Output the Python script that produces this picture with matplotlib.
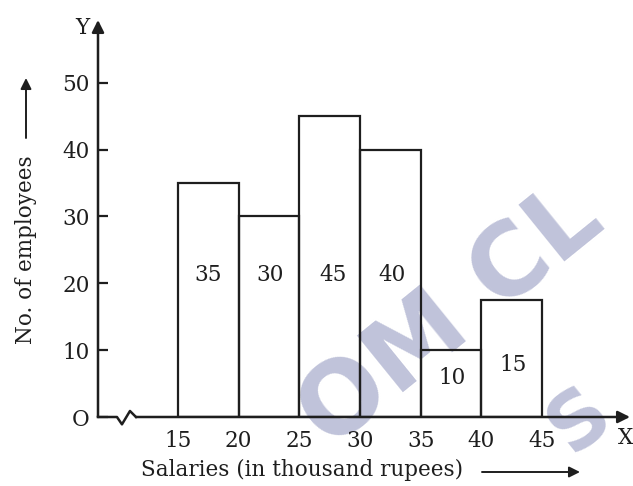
import matplotlib.pyplot as plt

# histogram of salaries, drawn in textbook style
bin_left = [15, 20, 25, 30, 35, 40]
heights = [35, 30, 45, 40, 10, 17.5]
bar_labels = ['35', '30', '45', '40', '10', '15']
label_x = [17.5, 22.6, 27.8, 32.6, 37.6, 42.6]
label_y = [21.3, 21.3, 21.3, 21.3, 5.8, 7.8]
xticks = [15, 20, 25, 30, 35, 40, 45]
yticks = [0, 10, 20, 30, 40, 50]
ytick_labels = ['O', '10', '20', '30', '40', '50']

plt.rcParams['font.family'] = ['DejaVu Serif']
fs = 15.5
W, H = 633, 486
ink = '#1e1e1e'

fig = plt.figure(figsize=(W / 100, H / 100), dpi=100)
ax = fig.add_axes([98 / W, 69 / H, (630 - 98) / W, (417 - 20) / H])
ax.set_xlim(8.41, 52.25)
ax.set_ylim(0, 59.4)
for s in ax.spines.values():
    s.set_visible(False)

# watermark
wm = '#c0c3da'
ax.text(452 / W, 1 - 318 / H, 'OM CL', transform=fig.transFigure, rotation=39,
        fontsize=72, fontweight='bold', family='DejaVu Sans', color=wm,
        ha='center', va='center', zorder=0, clip_on=False)
ax.text(580 / W, 1 - 420 / H, 'S', transform=fig.transFigure, rotation=39,
        fontsize=56, fontweight='bold', family='DejaVu Sans', color=wm,
        ha='center', va='center', zorder=0, clip_on=False)

ax.bar(bin_left, heights, width=5, align='edge', fill=False,
       edgecolor=ink, linewidth=1.6, zorder=2)
for x, y, t in zip(label_x, label_y, bar_labels):
    ax.text(x, y, t, ha='center', va='center', fontsize=fs, color=ink, zorder=3)

# y axis with arrow
ax.annotate('', xy=(0, 1.0), xytext=(0, 0), xycoords='axes fraction',
            arrowprops=dict(arrowstyle='-|>', color=ink, lw=1.8,
                            mutation_scale=18, shrinkA=0, shrinkB=0), zorder=3)
# x axis with break and arrow
px = lambda p: (p - 178) / 12.133 + 15
ax.plot([px(98), px(117), px(122), px(130), px(136)],
        [0, 0, -1.1, 0.9, 0], color=ink, lw=1.8, clip_on=False, zorder=3)
ax.annotate('', xy=(1.0, 0), xytext=(px(136), 0),
            xycoords=('axes fraction', 'data'), textcoords='data',
            arrowprops=dict(arrowstyle='-|>', color=ink, lw=1.8,
                            mutation_scale=18, shrinkA=0, shrinkB=0), zorder=3)

ax.set_yticks(yticks)
ax.set_yticklabels(ytick_labels, fontsize=fs)
ax.tick_params(axis='y', direction='in', length=7, width=1.6, pad=6, colors=ink)
ax.set_xticks(xticks)
ax.set_xticklabels([str(v) for v in xticks], fontsize=fs)
ax.tick_params(axis='x', length=0, pad=9, colors=ink)

fig.text(82 / W, 1 - 28 / H, 'Y', fontsize=fs, ha='center', va='center', color=ink)
fig.text(626 / W, 1 - 438 / H, 'X', fontsize=fs, ha='center', va='center', color=ink)

fig.text(302 / W, 1 - 470 / H, 'Salaries (in thousand rupees)', fontsize=fs,
         ha='center', va='center', color=ink)
ax.annotate('', xy=(580 / W, 1 - 472 / H), xytext=(482 / W, 1 - 472 / H),
            xycoords='figure fraction',
            arrowprops=dict(arrowstyle='-|>', color=ink, lw=1.4,
                            mutation_scale=16, shrinkA=0, shrinkB=0))
fig.text(26 / W, 1 - 250 / H, 'No. of employees', fontsize=fs, rotation=90,
         ha='center', va='center', color=ink)
ax.annotate('', xy=(26 / W, 1 - 78 / H), xytext=(26 / W, 1 - 138 / H),
            xycoords='figure fraction',
            arrowprops=dict(arrowstyle='-|>', color=ink, lw=1.4,
                            mutation_scale=16, shrinkA=0, shrinkB=0))

fig.savefig('out.png', dpi=100)
